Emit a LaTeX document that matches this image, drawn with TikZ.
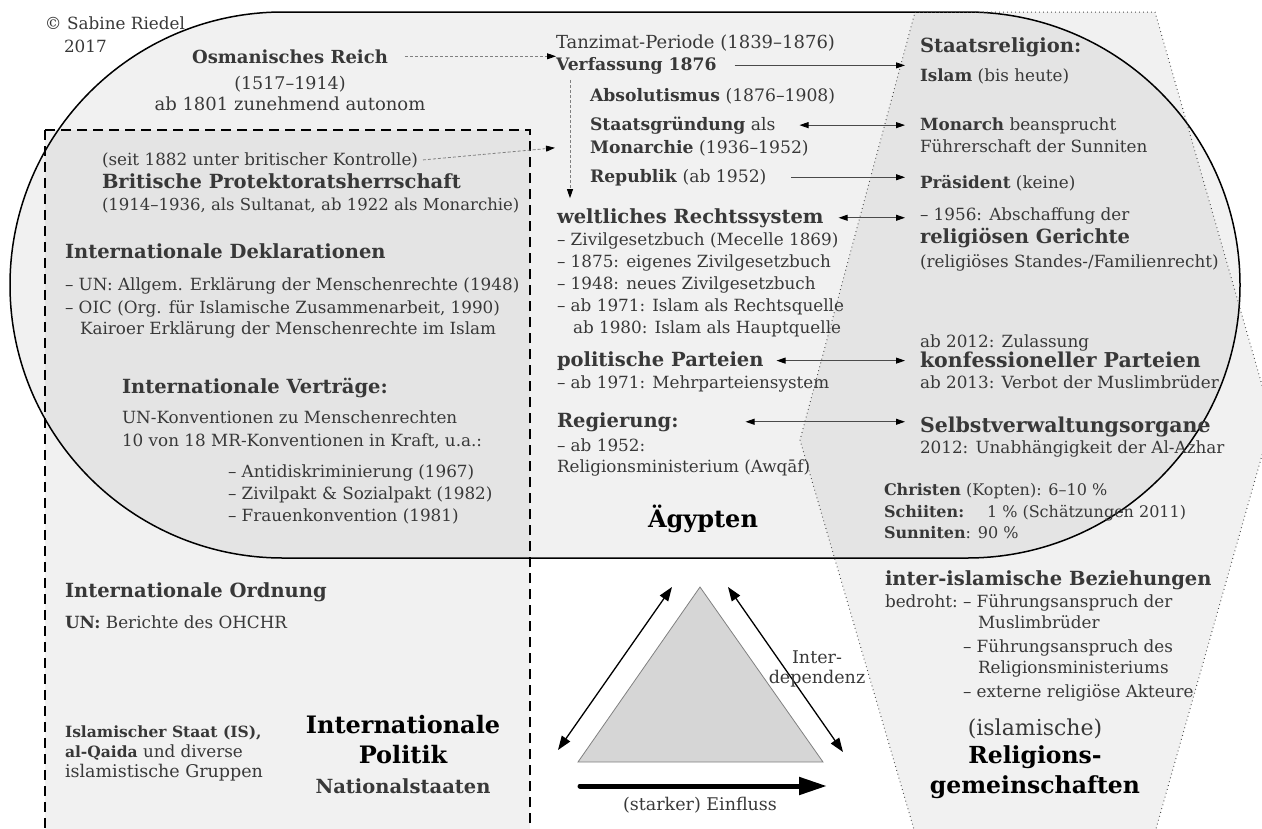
\documentclass[tikz,border=0pt]{standalone}
\usepackage{fontspec}
\setmainfont{DejaVu Serif}
\usetikzlibrary{arrows.meta}
\definecolor{ink}{HTML}{383838}
\definecolor{edge}{HTML}{4A4A4A}

\tikzset{
  txt/.style={anchor=base west, inner sep=0pt, outer sep=0pt, text=ink, font=\fontsize{16.8}{19}\selectfont},
  txtl/.style={txt, font=\fontsize{17.2}{20}\selectfont},
  hd/.style={txt, font=\fontsize{19.5}{22}\selectfont\bfseries},
  bigname/.style={anchor=base, inner sep=0pt, outer sep=0pt, text=black, font=\fontsize{23.5}{26}\selectfont\bfseries},
  area/.style={fill=black, fill opacity=0.055},
  link/.style={draw=edge, line width=0.9pt, shorten >=15pt},
  hint/.style={draw=gray, line width=0.8pt, dash pattern=on 3pt off 2pt},
  rel/.style={line width=1.3pt, {Triangle[length=14pt,width=10pt]}-{Triangle[length=14pt,width=10pt]}},
  >={Triangle[length=9pt,width=6pt,color=black]}
}

\begin{document}
\begin{tikzpicture}[x=1pt,y=-1pt]
\useasboundingbox (0,0) rectangle (1262,828);
\clip (0,0) rectangle (1262,828);

% the three areas
\draw[area, line width=1.5pt] (10,12) [rounded corners=273pt] rectangle (1240,558);
\draw[area, line width=1.6pt, dash pattern=on 10pt off 6pt] (45,130) rectangle (530,850);
\draw[area, draw=edge, line width=1pt, dash pattern=on 0.8pt off 3.2pt]
  (915,12) -- (1155,12) -- (1272,420) -- (1150,850) -- (920,850) -- (800,440) -- cycle;

% copyright
\node[txt] (copy) at (45,29) {© Sabine Riedel};
\node[txt] (year) at (64,52) {2017};

% Osmanisches Reich
\node[hd, anchor=base, font=\fontsize{18}{22}\selectfont\bfseries] (osm) at (290,63) {Osmanisches Reich};
\node[txt, anchor=base, font=\fontsize{17.5}{20}\selectfont] (osm2) at (290,89) {(1517–1914)};
\node[txt, anchor=base, font=\fontsize{18}{20}\selectfont] (osm3) at (290,110) {ab 1801 zunehmend autonom};

% Aegypten, middle column
\node[txt, font=\fontsize{18}{20}\selectfont] (tanz) at (556,48) {Tanzimat-Periode (1839–1876)};
\node[txtl, font=\fontsize{17.2}{20}\selectfont\bfseries] (verf) at (556,70) {Verfassung 1876};
\node[txtl] (abs) at (590,101) {\textbf{Absolutismus} (1876–1908)};
\node[txtl] (staat) at (590,130) {\textbf{Staatsgründung} als};
\node[txtl] (mon) at (590,153) {\textbf{Monarchie} (1936–1952)};
\node[txtl] (rep) at (590,182) {\textbf{Republik} (ab 1952)};
\node[hd] (welt) at (557,223) {weltliches Rechtssystem};
\foreach \entry [count=\i] in {{– Zivilgesetzbuch (Mecelle 1869)},{– 1875: eigenes Zivilgesetzbuch},
  {– 1948: neues Zivilgesetzbuch},{– ab 1971: Islam als Rechtsquelle}}
  \node[txt] (welt\i) at (557,223+22*\i) {\entry};
\node[txt] (welt5) at (573,333) {ab 1980: Islam als Hauptquelle};
\node[hd] (pol) at (557,366) {politische Parteien};
\node[txt] (pol1) at (557,388) {– ab 1971: Mehrparteiensystem};
\node[hd] (reg) at (557,427) {Regierung:};
\node[txt] (reg1) at (557,451) {– ab 1952:};
\node[txt] (reg2) at (557,472) {Religionsministerium (Awqāf)};
\node[bigname, font=\fontsize{24}{28}\selectfont\bfseries] (egy) at (703,527) {Ägypten};

% right column
\node[hd] (srel) at (920,52) {Staatsreligion:};
\node[txt] (islam) at (920,81) {\textbf{Islam} (bis heute)};
\node[txt] (monarch) at (920,130) {\textbf{Monarch} beansprucht};
\node[txt] (monarch2) at (920,152) {Führerschaft der Sunniten};
\node[txt] (pres) at (920,188) {\textbf{Präsident} (keine)};
\node[txt] (abol) at (920,220) {– 1956: Abschaffung der};
\node[hd] (court) at (920,243) {religiösen Gerichte};
\node[txt] (court2) at (920,267) {(religiöses Standes-/Familienrecht)};
\node[txt] (zul) at (920,347) {ab 2012: Zulassung};
\node[hd, font=\fontsize{20.5}{24}\selectfont\bfseries] (konf) at (920,367) {konfessioneller Parteien};
\node[txt] (konf2) at (920,388) {ab 2013: Verbot der Muslimbrüder};
\node[hd, font=\fontsize{20.5}{24}\selectfont\bfseries] (selbst) at (920,432) {Selbstverwaltungsorgane};
\node[txt] (selbst2) at (920,453) {2012: Unabhängigkeit der Al-Azhar};
\node[txt, font=\fontsize{16}{19}\selectfont] (chr) at (884,495) {\textbf{Christen} (Kopten): 6–10 \%};
\node[txt, font=\fontsize{16}{19}\selectfont] (shi) at (884,517) {\textbf{Schiiten:}};
\node[txt, font=\fontsize{16}{19}\selectfont] (shi2) at (987,517) {1 \% (Schätzungen 2011)};
\node[txt, font=\fontsize{16}{19}\selectfont] (sun) at (884,538) {\textbf{Sunniten}: 90 \%};

% Religionsgemeinschaften
\node[hd] (inter) at (885,585) {inter-islamische Beziehungen};
\node[txt] (bedr) at (885,607) {bedroht:};
\node[txt] (bedr1) at (963,607) {– Führungsanspruch der};
\node[txt] (bedr2) at (978,628) {Muslimbrüder};
\node[txt] (bedr3) at (963,652) {– Führungsanspruch des};
\node[txt] (bedr4) at (978,673) {Religionsministeriums};
\node[txt] (bedr5) at (963,697) {– externe religiöse Akteure};
\node[txt, anchor=base, font=\fontsize{22}{26}\selectfont] (relg) at (1035,735) {(islamische)};
\node[bigname] (relg1) at (1035,763) {Religions-};
\node[bigname] (relg2) at (1035,793) {gemeinschaften};

% Internationale Politik
\node[txt] (seit) at (102,165) {(seit 1882 unter britischer Kontrolle)};
\node[hd] (brit) at (102,188) {Britische Protektoratsherrschaft};
\node[txt, font=\fontsize{16.5}{19}\selectfont] (brit2) at (102,210) {(1914–1936, als Sultanat, ab 1922 als Monarchie)};
\node[hd] (dekl) at (65,258) {Internationale Deklarationen};
\node[txt] (dekl1) at (65,290) {– UN: Allgem. Erklärung der Menschenrechte (1948)};
\node[txt] (dekl2) at (65,313) {– OIC (Org. für Islamische Zusammenarbeit, 1990)};
\node[txt] (dekl3) at (80,334) {Kairoer Erklärung der Menschenrechte im Islam};
\node[hd] (vert) at (122,393) {Internationale Verträge:};
\node[txt] (vert1) at (122,423) {UN-Konventionen zu Menschenrechten};
\node[txt] (vert2) at (122,446) {10 von 18 MR-Konventionen in Kraft, u.a.:};
\foreach \entry [count=\i] in {{– Antidiskriminierung (1967)},{– Zivilpakt \& Sozialpakt (1982)},
  {– Frauenkonvention (1981)}}
  \node[txt] (vert\i) at (228,455+22*\i) {\entry};
\node[hd] (ord) at (65,597) {Internationale Ordnung};
\node[txt] (ord1) at (65,628) {\textbf{UN:} Berichte des OHCHR};
\node[txt, font=\fontsize{15.5}{19}\selectfont\bfseries] (is1) at (65,737) {Islamischer Staat (IS),};
\node[txt] (is2) at (65,757) {{\fontsize{15.5}{19}\selectfont\bfseries al-Qaida} und diverse};
\node[txt, font=\fontsize{17.5}{20}\selectfont] (is3) at (65,777) {islamistische Gruppen};
\node[bigname, font=\fontsize{24}{28}\selectfont\bfseries] (ip1) at (403,733) {Internationale};
\node[bigname, font=\fontsize{24}{28}\selectfont\bfseries] (ip2) at (403,763) {Politik};
\node[hd, anchor=base] (ip3) at (403,793) {Nationalstaaten};

% arrows between the columns
\draw[hint, ->] ([xshift=17pt]osm.east) -- (osm.east -| tanz.west);
\draw[hint, ->] ([xshift=5pt]seit.east) -- ([xshift=-35pt]mon.west);
\draw[hint, ->] ([xshift=14pt,yshift=-6pt]verf.south west) -- ([xshift=13pt,yshift=10pt]welt.north west);
\draw[link, ->] ([xshift=18pt]verf.east) -- (verf.east -| islam.west);
\draw[link, <->] ([xshift=24pt]staat.east) -- (staat.east -| monarch.west);
\draw[link, ->] ([xshift=25pt]rep.east) -- (rep.east -| pres.west);
\draw[link, <->] ([xshift=15pt]welt.east) -- (welt.east -| abol.west);
\draw[link, <->] ([xshift=13pt]pol.east) -- (pol.east -| konf.west);
\draw[link, <->] ([xshift=67pt]reg.east) -- (reg.east -| selbst.west);

% triangle
\coordinate (apex) at (700,587);
\coordinate (bl) at (578,762);
\coordinate (br) at (823,762);
\draw[fill=gray!32, draw=gray, line width=0.8pt] (apex) -- (br) -- (bl) -- cycle;
\coordinate (l1) at (558,750);
\coordinate (l2) at (672,587);
\coordinate (r1) at (728,587);
\coordinate (r2) at (843,752);
\draw[rel] (l1) -- (l2);
\draw[rel] (r1) -- (r2);
\coordinate (e1) at (580,786);
\coordinate (e2) at (827,786);
\draw[line width=5pt, line cap=round, -{Triangle[length=28pt,width=17pt]}] (e1) -- (e2);
\node[txt, anchor=base, font=\fontsize{17.5}{20}\selectfont] (einf) at (700,810) {(starker) Einfluss};
\node[txt, anchor=base, font=\fontsize{17.5}{20}\selectfont] (idep) at (817,663) {Inter-};
\node[txt, anchor=base, font=\fontsize{17.5}{20}\selectfont] (idep2) at (817,683) {dependenz};
\end{tikzpicture}
\end{document}
